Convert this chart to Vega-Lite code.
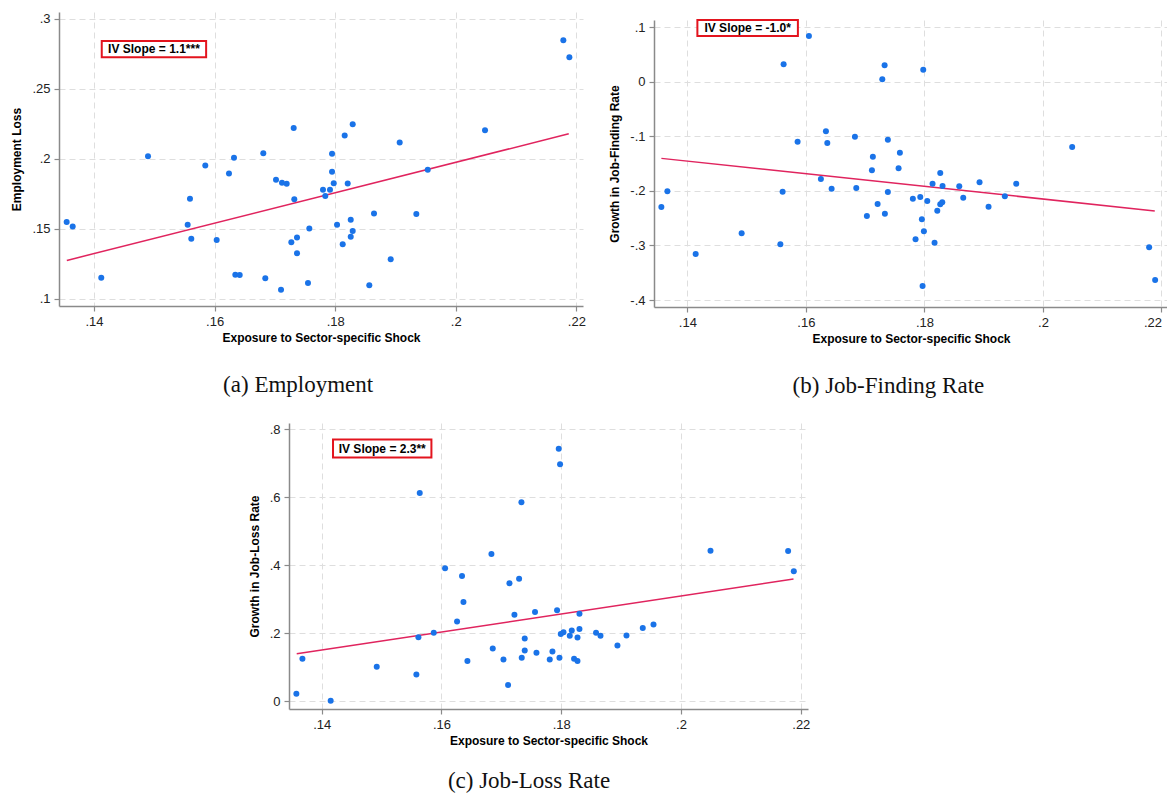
{
  "$schema": "https://vega.github.io/schema/vega-lite/v6.json",
  "padding": {"left": 10, "top": 12, "right": 0, "bottom": 0},
  "background": "white",
  "config": {
    "view": {"stroke": null},
    "font": "Liberation Sans",
    "axis": {
      "grid": true,
      "gridColor": "#dedede",
      "gridDash": [6, 4],
      "gridWidth": 1,
      "domainColor": "#8a8a8a",
      "domainWidth": 1.5,
      "tickColor": "#8a8a8a",
      "tickWidth": 1.2,
      "tickSize": 5,
      "labelFont": "Liberation Sans",
      "labelFontSize": 13,
      "labelColor": "#222222",
      "labelPadding": 4,
      "titleFont": "Liberation Sans",
      "titleFontSize": 12,
      "titleFontWeight": "bold",
      "titleColor": "#000000",
      "labelExpr": "(datum.value < 0 ? '-' : '') + replace(format(abs(datum.value), '~g'), '0.', '.')"
    },
    "axisX": {"titlePadding": 4},
    "axisY": {"titlePadding": 8, "labelAngle": 0},
    "title": {
      "font": "Liberation Serif",
      "fontSize": 23,
      "fontWeight": "normal",
      "color": "#111111",
      "orient": "bottom",
      "anchor": "middle",
      "frame": "bounds",
      "offset": 31
    }
  },
  "datasets": {
    "emp": [
      {"x": 0.13547, "y": 0.15479}, {"x": 0.13647, "y": 0.15171}, {"x": 0.14121, "y": 0.1150},
      {"x": 0.14896, "y": 0.2019}, {"x": 0.15554, "y": 0.15286}, {"x": 0.15592, "y": 0.17143},
      {"x": 0.15614, "y": 0.14286}, {"x": 0.15846, "y": 0.19529}, {"x": 0.16035, "y": 0.14193},
      {"x": 0.16239, "y": 0.18957}, {"x": 0.16322, "y": 0.20071}, {"x": 0.16344, "y": 0.11714},
      {"x": 0.16417, "y": 0.11693}, {"x": 0.16808, "y": 0.20407}, {"x": 0.16841, "y": 0.11457},
      {"x": 0.17019, "y": 0.1850}, {"x": 0.17102, "y": 0.10643}, {"x": 0.17118, "y": 0.18286},
      {"x": 0.17196, "y": 0.18214}, {"x": 0.17273, "y": 0.14029}, {"x": 0.17312, "y": 0.22214},
      {"x": 0.17322, "y": 0.17121}, {"x": 0.17367, "y": 0.14386}, {"x": 0.17367, "y": 0.13243},
      {"x": 0.17549, "y": 0.11121}, {"x": 0.17571, "y": 0.15029}, {"x": 0.17798, "y": 0.17786},
      {"x": 0.17836, "y": 0.17336}, {"x": 0.17914, "y": 0.17786}, {"x": 0.17948, "y": 0.20357},
      {"x": 0.17948, "y": 0.19071}, {"x": 0.17976, "y": 0.18264}, {"x": 0.18031, "y": 0.15286},
      {"x": 0.18125, "y": 0.13886}, {"x": 0.18158, "y": 0.21671}, {"x": 0.18208, "y": 0.18243},
      {"x": 0.18258, "y": 0.15643}, {"x": 0.18258, "y": 0.14429}, {"x": 0.18291, "y": 0.22479},
      {"x": 0.18291, "y": 0.14836}, {"x": 0.18566, "y": 0.10957}, {"x": 0.18644, "y": 0.1610},
      {"x": 0.18921, "y": 0.12814}, {"x": 0.19070, "y": 0.21171}, {"x": 0.19346, "y": 0.16050},
      {"x": 0.19535, "y": 0.19214}, {"x": 0.20485, "y": 0.22050}, {"x": 0.21784, "y": 0.28479},
      {"x": 0.21884, "y": 0.27264}
    ],
    "jf": [
      {"x": 0.13561, "y": -0.2295}, {"x": 0.13663, "y": -0.2007}, {"x": 0.1414, "y": -0.3156},
      {"x": 0.14916, "y": -0.2777}, {"x": 0.15569, "y": -0.2978}, {"x": 0.15607, "y": -0.2015},
      {"x": 0.15624, "y": 0.0324}, {"x": 0.1586, "y": -0.1099}, {"x": 0.16051, "y": 0.0842},
      {"x": 0.16253, "y": -0.1782}, {"x": 0.16338, "y": -0.0908}, {"x": 0.16361, "y": -0.1123},
      {"x": 0.16434, "y": -0.196}, {"x": 0.16827, "y": -0.1007}, {"x": 0.1685, "y": -0.1947},
      {"x": 0.17029, "y": -0.246}, {"x": 0.17114, "y": -0.1623}, {"x": 0.1713, "y": -0.1374},
      {"x": 0.1721, "y": -0.224}, {"x": 0.17289, "y": 0.0049}, {"x": 0.17328, "y": 0.0306},
      {"x": 0.17333, "y": -0.2418}, {"x": 0.17383, "y": -0.1062}, {"x": 0.17383, "y": -0.202},
      {"x": 0.17564, "y": -0.1586}, {"x": 0.17586, "y": -0.130}, {"x": 0.17805, "y": -0.2143},
      {"x": 0.1785, "y": -0.2886}, {"x": 0.1793, "y": -0.2112}, {"x": 0.17957, "y": -0.252},
      {"x": 0.17969, "y": -0.3742}, {"x": 0.1798, "y": 0.022}, {"x": 0.17991, "y": -0.274},
      {"x": 0.18048, "y": -0.2185}, {"x": 0.18137, "y": -0.1868}, {"x": 0.18171, "y": -0.2949},
      {"x": 0.18217, "y": -0.2363}, {"x": 0.18267, "y": -0.1672}, {"x": 0.18267, "y": -0.2246},
      {"x": 0.18306, "y": -0.191}, {"x": 0.18301, "y": -0.2209}, {"x": 0.18588, "y": -0.1916},
      {"x": 0.18655, "y": -0.2125}, {"x": 0.1893, "y": -0.1843}, {"x": 0.19082, "y": -0.2289},
      {"x": 0.19357, "y": -0.2099}, {"x": 0.19549, "y": -0.1868}, {"x": 0.20493, "y": -0.1196},
      {"x": 0.21792, "y": -0.3033}, {"x": 0.21893, "y": -0.3632}
    ],
    "jl": [
      {"x": 0.13577, "y": 0.0226}, {"x": 0.13678, "y": 0.1252}, {"x": 0.1415, "y": 0.002},
      {"x": 0.14919, "y": 0.1018}, {"x": 0.15581, "y": 0.0792}, {"x": 0.15615, "y": 0.1889},
      {"x": 0.15637, "y": 0.6129}, {"x": 0.15871, "y": 0.2015}, {"x": 0.16060, "y": 0.3912},
      {"x": 0.1626, "y": 0.2346}, {"x": 0.16343, "y": 0.3686}, {"x": 0.16367, "y": 0.2924},
      {"x": 0.16433, "y": 0.1185}, {"x": 0.16834, "y": 0.4331}, {"x": 0.16856, "y": 0.1554},
      {"x": 0.17035, "y": 0.1232}, {"x": 0.17112, "y": 0.0481}, {"x": 0.17135, "y": 0.3472},
      {"x": 0.17218, "y": 0.2551}, {"x": 0.17296, "y": 0.3607}, {"x": 0.17335, "y": 0.5856},
      {"x": 0.1734, "y": 0.1282}, {"x": 0.1739, "y": 0.1848}, {"x": 0.1739, "y": 0.1496},
      {"x": 0.17562, "y": 0.263}, {"x": 0.17586, "y": 0.1428}, {"x": 0.17808, "y": 0.1232},
      {"x": 0.17853, "y": 0.1466}, {"x": 0.1793, "y": 0.268}, {"x": 0.17958, "y": 0.7431},
      {"x": 0.1797, "y": 0.1282}, {"x": 0.1798, "y": 0.697}, {"x": 0.17992, "y": 0.1985},
      {"x": 0.18037, "y": 0.2035}, {"x": 0.18142, "y": 0.1927}, {"x": 0.18175, "y": 0.2082},
      {"x": 0.18214, "y": 0.1252}, {"x": 0.18271, "y": 0.1185}, {"x": 0.18271, "y": 0.1877},
      {"x": 0.18304, "y": 0.258}, {"x": 0.18304, "y": 0.2132}, {"x": 0.18581, "y": 0.2015},
      {"x": 0.18655, "y": 0.1927}, {"x": 0.18938, "y": 0.1642}, {"x": 0.19089, "y": 0.1935},
      {"x": 0.19361, "y": 0.2161}, {"x": 0.19540, "y": 0.2258}, {"x": 0.20492, "y": 0.4428},
      {"x": 0.21788, "y": 0.4419}, {"x": 0.21883, "y": 0.3824}
    ],
    "emp_fit": [{"x": 0.1355, "y": 0.1274}, {"x": 0.21874, "y": 0.2179}],
    "jf_fit": [{"x": 0.13562, "y": -0.1403}, {"x": 0.21887, "y": -0.2366}],
    "jl_fit": [{"x": 0.13583, "y": 0.1399}, {"x": 0.21878, "y": 0.3598}],
    "emp_box": [{"x": 0.14129, "x2": 0.1586, "y": 0.2726, "y2": 0.2843, "xm": 0.14995, "ym": 0.27845, "label": "IV Slope = 1.1***"}],
    "jf_box": [{"x": 0.14169, "x2": 0.15865, "y": 0.0841, "y2": 0.1134, "xm": 0.15017, "ym": 0.09875, "label": "IV Slope = -1.0*"}],
    "jl_box": [{"x": 0.14189, "x2": 0.15832, "y": 0.717, "y2": 0.7698, "xm": 0.150105, "ym": 0.7434, "label": "IV Slope = 2.3**"}]
  },
  "vconcat": [
    {
      "hconcat": [
        {
          "width": 524,
          "height": 294,
          "title": {"text": "(a) Employment"},
          "layer": [
            {
              "data": {"name": "emp_box"},
              "mark": {"type": "rect", "fill": "white", "stroke": "#e3141e", "strokeWidth": 2},
              "encoding": {
                "x": {"field": "x", "type": "quantitative", "scale": {"domain": [0.1342, 0.2211], "nice": false, "zero": false},
                      "axis": {"values": [0.14, 0.16, 0.18, 0.2, 0.22], "title": "Exposure to Sector-specific Shock"}},
                "x2": {"field": "x2"},
                "y": {"field": "y", "type": "quantitative", "scale": {"domain": [0.0948, 0.305], "nice": false, "zero": false},
                      "axis": {"values": [0.1, 0.15, 0.2, 0.25, 0.3], "title": "Employment Loss"}},
                "y2": {"field": "y2"}
              }
            },
            {
              "data": {"name": "emp_box"},
              "mark": {"type": "text", "font": "Liberation Sans", "fontSize": 12, "fontWeight": "bold", "color": "#000000", "align": "center", "baseline": "middle"},
              "encoding": {
                "x": {"field": "xm", "type": "quantitative"},
                "y": {"field": "ym", "type": "quantitative"},
                "text": {"field": "label"}
              }
            },
            {
              "data": {"name": "emp_fit"},
              "mark": {"type": "line", "color": "#e0245e", "strokeWidth": 1.5},
              "encoding": {
                "x": {"field": "x", "type": "quantitative"},
                "y": {"field": "y", "type": "quantitative"}
              }
            },
            {
              "data": {"name": "emp"},
              "mark": {"type": "circle", "color": "#1a73e8", "opacity": 1, "size": 36},
              "encoding": {
                "x": {"field": "x", "type": "quantitative"},
                "y": {"field": "y", "type": "quantitative"}
              }
            }
          ]
        },
        {
          "vconcat": [
            {"width": 514, "height": 1, "data": {"values": []}, "mark": "point"},
            {
              "width": 514,
              "height": 287,
              "title": {"text": "(b) Job-Finding Rate"},
              "layer": [
                {
                  "data": {"name": "jf_box"},
                  "mark": {"type": "rect", "fill": "white", "stroke": "#e3141e", "strokeWidth": 2},
                  "encoding": {
                    "x": {"field": "x", "type": "quantitative", "scale": {"domain": [0.13437, 0.2211], "nice": false, "zero": false},
                          "axis": {"values": [0.14, 0.16, 0.18, 0.2, 0.22], "title": "Exposure to Sector-specific Shock", "labelFlush": 8}},
                    "x2": {"field": "x2"},
                    "y": {"field": "y", "type": "quantitative", "scale": {"domain": [-0.4128, 0.1134], "nice": false, "zero": false},
                          "axis": {"values": [-0.4, -0.3, -0.2, -0.1, 0, 0.1], "title": "Growth in Job-Finding Rate"}},
                    "y2": {"field": "y2"}
                  }
                },
                {
                  "data": {"name": "jf_box"},
                  "mark": {"type": "text", "font": "Liberation Sans", "fontSize": 12, "fontWeight": "bold", "color": "#000000", "align": "center", "baseline": "middle"},
                  "encoding": {
                    "x": {"field": "xm", "type": "quantitative"},
                    "y": {"field": "ym", "type": "quantitative"},
                    "text": {"field": "label"}
                  }
                },
                {
                  "data": {"name": "jf_fit"},
                  "mark": {"type": "line", "color": "#e0245e", "strokeWidth": 1.5},
                  "encoding": {
                    "x": {"field": "x", "type": "quantitative"},
                    "y": {"field": "y", "type": "quantitative"}
                  }
                },
                {
                  "data": {"name": "jf"},
                  "mark": {"type": "circle", "color": "#1a73e8", "opacity": 1, "size": 36},
                  "encoding": {
                    "x": {"field": "x", "type": "quantitative"},
                    "y": {"field": "y", "type": "quantitative"}
                  }
                }
              ]
            }
          ],
          "spacing": 7,
          "bounds": "flush"
        }
      ],
      "spacing": 71,
      "bounds": "flush"
    },
    {
      "hconcat": [
        {"width": 220, "height": 1, "data": {"values": []}, "mark": "point"},
        {
          "width": 519,
          "height": 286,
          "title": {"text": "(c) Job-Loss Rate", "offset": 24},
          "layer": [
            {
              "data": {"name": "jl_box"},
              "mark": {"type": "rect", "fill": "white", "stroke": "#e3141e", "strokeWidth": 2},
              "encoding": {
                "x": {"field": "x", "type": "quantitative", "scale": {"domain": [0.13454, 0.2212], "nice": false, "zero": false},
                      "axis": {"values": [0.14, 0.16, 0.18, 0.2, 0.22], "title": "Exposure to Sector-specific Shock"}},
                "x2": {"field": "x2"},
                "y": {"field": "y", "type": "quantitative", "scale": {"domain": [-0.0223, 0.8185], "nice": false, "zero": false},
                      "axis": {"values": [0, 0.2, 0.4, 0.6, 0.8], "title": "Growth in Job-Loss Rate"}},
                "y2": {"field": "y2"}
              }
            },
            {
              "data": {"name": "jl_box"},
              "mark": {"type": "text", "font": "Liberation Sans", "fontSize": 12, "fontWeight": "bold", "color": "#000000", "align": "center", "baseline": "middle"},
              "encoding": {
                "x": {"field": "xm", "type": "quantitative"},
                "y": {"field": "ym", "type": "quantitative"},
                "text": {"field": "label"}
              }
            },
            {
              "data": {"name": "jl_fit"},
              "mark": {"type": "line", "color": "#e0245e", "strokeWidth": 1.5},
              "encoding": {
                "x": {"field": "x", "type": "quantitative"},
                "y": {"field": "y", "type": "quantitative"}
              }
            },
            {
              "data": {"name": "jl"},
              "mark": {"type": "circle", "color": "#1a73e8", "opacity": 1, "size": 36},
              "encoding": {
                "x": {"field": "x", "type": "quantitative"},
                "y": {"field": "y", "type": "quantitative"}
              }
            }
          ]
        }
      ],
      "spacing": 10,
      "bounds": "flush"
    }
  ],
  "spacing": 411,
  "bounds": "flush"
}
